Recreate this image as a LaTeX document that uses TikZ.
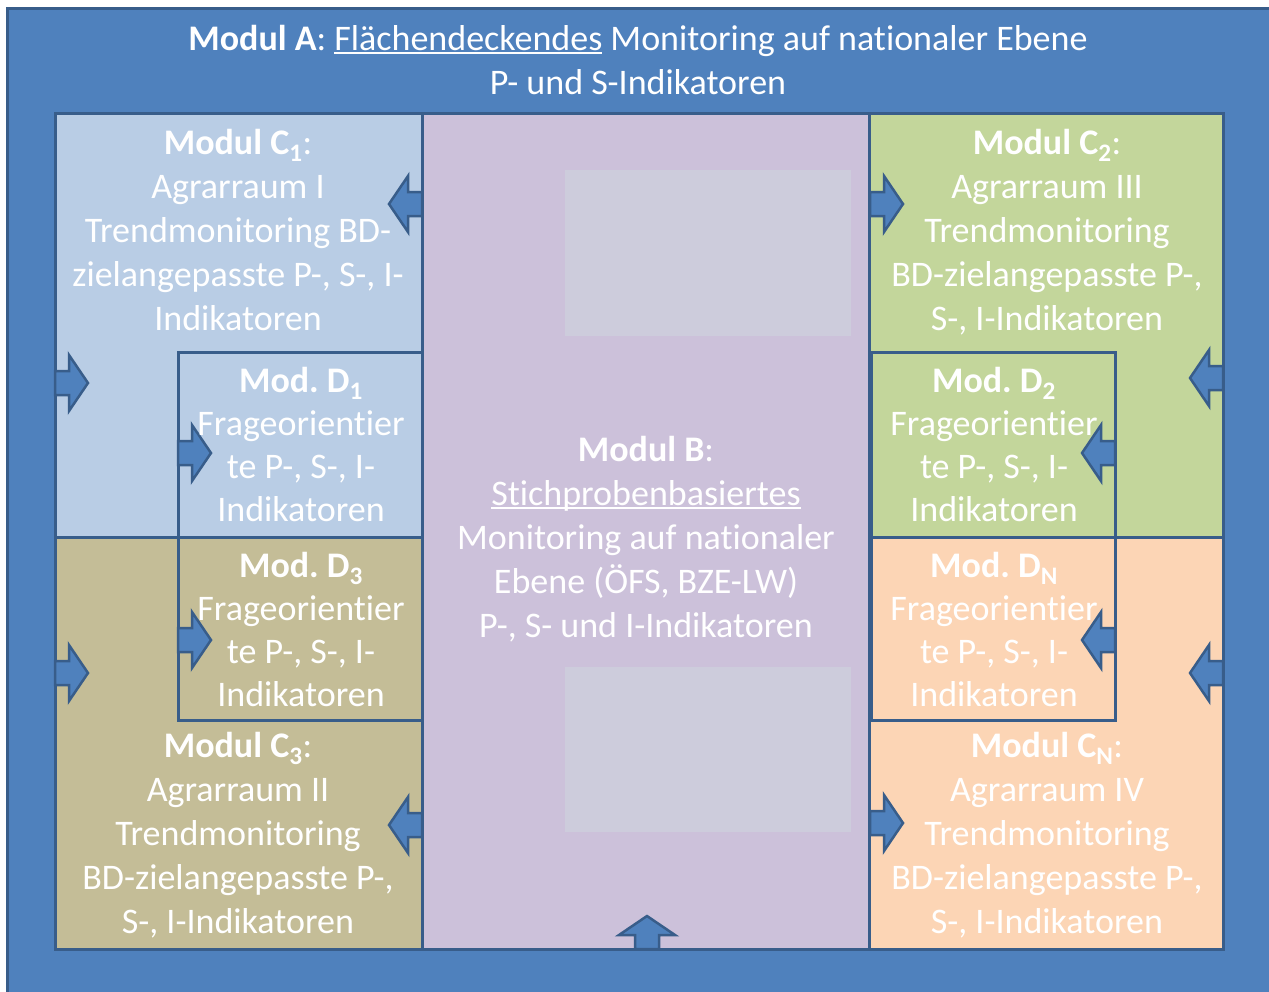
\documentclass[tikz,border=0pt]{standalone}
\usepackage{fontspec}
\setmainfont{Carlito}[RawFeature={-liga;-clig;-calt;-dlig;-rlig}]
\definecolor{outerblue}{HTML}{4F81BD}
\definecolor{bord}{HTML}{385D8A}
\definecolor{cblue}{HTML}{B9CDE5}
\definecolor{ctan}{HTML}{C4BD97}
\definecolor{cpurple}{HTML}{CCC1DA}
\definecolor{cgreen}{HTML}{C3D69B}
\definecolor{cpeach}{HTML}{FCD5B5}
\definecolor{cgray}{HTML}{CDCCDC}
\frenchspacing
\newcommand\myul[1]{\setbox0\hbox{#1}\rlap{\rule[-4pt]{\wd0}{2pt}}\box0\relax}
\newcommand\ctext[1]{\begin{tabular}[t]{@{}c@{}}#1\end{tabular}}
\newcommand\ti{t\kern0pt i}
\tikzset{
  region/.style={draw=bord, line width=3pt, inner sep=0pt, outer sep=0pt, anchor=north west},
  graybox/.style={fill=cgray, inner sep=0pt, outer sep=0pt, anchor=north west},
  txt/.style={text=white, inner sep=0pt, anchor=base, font=\fontsize{36}{44}\selectfont},
  dtxt/.style={text=white, inner sep=0pt, anchor=base, font=\fontsize{36}{43.3}\selectfont},
  arr/.style={fill=outerblue, draw=bord, line width=2.5pt, line join=miter},
  pics/blockarrow/.style={code={
    \draw[arr] (0,-12) -- (14,-12) -- (14,-28) -- (33,0) -- (14,28) -- (14,12) -- (0,12) -- cycle;}}
}
\begin{document}
\begin{tikzpicture}[x=1pt,y=-1pt]
\useasboundingbox (0,0) rectangle (1269,991);
\clip (0,0) rectangle (1269,991);
\fill[white] (0,0) rectangle (1269,991);
% outer module A
\node[region, fill=outerblue, minimum width=1290pt, minimum height=1000pt] (modA) at (7.5,8.5) {};
% columns
\node[region, fill=cblue, minimum width=367pt, minimum height=424pt] (c1) at (55,113) {};
\node[region, fill=ctan, minimum width=367pt, minimum height=412pt] (c3) at (55,537) {};
\node[region, fill=cpurple, minimum width=447pt, minimum height=836pt] (modB) at (422,113) {};
\node[region, fill=cgreen, minimum width=354pt, minimum height=424pt] (c2) at (869,113) {};
\node[region, fill=cpeach, minimum width=354pt, minimum height=412pt] (cn) at (869,537) {};
% D boxes
\node[region, fill=cblue, minimum width=244pt, minimum height=185pt] (d1) at (178,352) {};
\node[region, fill=ctan, minimum width=244pt, minimum height=183pt] (d3) at (178,537) {};
\node[region, fill=cgreen, minimum width=244pt, minimum height=185pt] (d2) at (871,352) {};
\node[region, fill=cpeach, minimum width=244pt, minimum height=183pt] (dn) at (871,537) {};
% gray boxes
\node[graybox, minimum width=286pt, minimum height=166pt] (g1) at (565,170) {};
\node[graybox, minimum width=286pt, minimum height=165pt] (g2) at (565,667) {};
% arrows
\pic at (422,204) [rotate=180] {blockarrow};
\pic at (422,825) [rotate=180] {blockarrow};
\pic at (870,204) {blockarrow};
\pic at (870,823) {blockarrow};
\pic at (55,383) {blockarrow};
\pic at (55,673) {blockarrow};
\pic at (178,453) {blockarrow};
\pic at (178,640) {blockarrow};
\pic at (1115,453) [rotate=180] {blockarrow};
\pic at (1115,640) [rotate=180] {blockarrow};
\pic at (1223,378) [rotate=180] {blockarrow};
\pic at (1223,673) [rotate=180] {blockarrow};
\pic at (647,949) [rotate=90] {blockarrow};
% texts
\node[txt] (tA) at (638,50) {\ctext{\textbf{Modul A}: \myul{Flächendeckendes} Monitoring auf na\ti onaler Ebene\\P- und S-Indikatoren}};
\node[txt] (tB) at (646,461) {\ctext{\textbf{Modul B}:\\\myul{Stichprobenbasiertes}\\Monitoring auf na\ti onaler\\Ebene (ÖFS, BZE-LW)\\P-, S- und I-Indikatoren}};
\node[txt] (tC1) at (238,154) {\ctext{\textbf{Modul C\textsubscript{1}}:\\Agrarraum I\\Trendmonitoring BD-\\zielangepasste P-, S-, I-\\Indikatoren}};
\node[txt] (tC2) at (1047,154) {\ctext{\textbf{Modul C\textsubscript{2}}:\\Agrarraum III\\Trendmonitoring\\BD-zielangepasste P-,\\S-, I-Indikatoren}};
\node[txt] (tC3) at (238,757) {\ctext{\textbf{Modul C\textsubscript{3}}:\\Agrarraum II\\Trendmonitoring\\BD-zielangepasste P-,\\S-, I-Indikatoren}};
\node[txt] (tCN) at (1047,757) {\ctext{\textbf{Modul C\textsubscript{N}}:\\Agrarraum IV\\Trendmonitoring\\BD-zielangepasste P-,\\S-, I-Indikatoren}};
\node[dtxt] (tD1) at (301,392) {\ctext{\textbf{Mod. D\textsubscript{1}}\\Frageorien\ti er\\te P-, S-, I-\\Indikatoren}};
\node[dtxt] (tD3) at (301,577) {\ctext{\textbf{Mod. D\textsubscript{3}}\\Frageorien\ti er\\te P-, S-, I-\\Indikatoren}};
\node[dtxt] (tD2) at (994,392) {\ctext{\textbf{Mod. D\textsubscript{2}}\\Frageorien\ti er\\te P-, S-, I-\\Indikatoren}};
\node[dtxt] (tDN) at (994,577) {\ctext{\textbf{Mod. D\textsubscript{N}}\\Frageorien\ti er\\te P-, S-, I-\\Indikatoren}};
\end{tikzpicture}
\end{document}
